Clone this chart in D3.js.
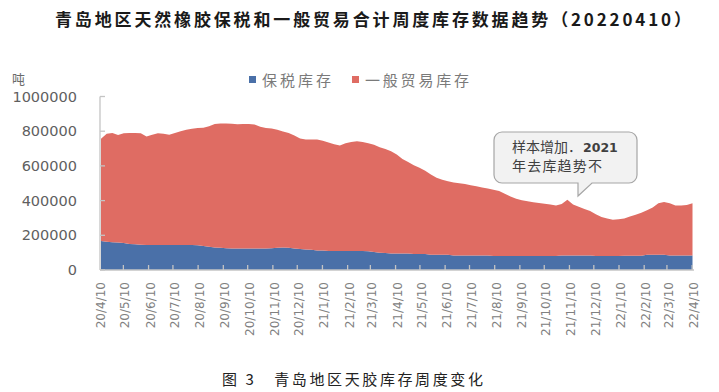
<!DOCTYPE html>
<html><head><meta charset="utf-8">
<script src="https://cdn.jsdelivr.net/npm/d3@7"></script>
<style>
html,body{margin:0;padding:0;background:#fff;}
svg{display:block;}
</style></head>
<body>
<svg id="chart" width="719" height="392"></svg>
<script>
// ---- data ----
const title = "青岛地区天然橡胶保税和一般贸易合计周度库存数据趋势（20220410）";
const caption = "图 3　青岛地区天胶库存周度变化";
const seriesNames = ["保税库存", "一般贸易库存"];
const startDate = "2020-04-10"; // first weekly observation
const bonded = [167,163,160,158,155,150,148,145,144,144,144,144,144,144,144,144,144,142,138,134,
  130,128,126,124,124,124,124,124,124,124,126,128,130,128,124,121,118,116,112,112,
  110,110,110,110,110,110,110,108,104,100,98,95,95,95,95,92,92,92,88,88,
  88,88,84,84,84,84,84,84,84,80,80,80,80,80,80,80,80,80,80,80,
  80,84,84,84,84,84,84,80,80,80,80,80,82,82,82,82,88,88,88,88,
  84,84,84,84,84];
const general = [590,622,630,620,633,640,642,643,626,636,644,642,636,646,656,664,670,676,682,694,
  712,717,719,719,716,718,718,714,701,694,689,680,668,662,651,637,634,636,640,633,
  625,615,608,620,628,632,628,622,618,608,600,590,570,545,527,512,498,480,462,444,
  432,424,421,416,411,404,398,392,386,382,375,360,344,330,322,316,310,306,302,297,
  292,296,321,294,281,268,256,242,225,217,210,212,215,226,236,248,257,272,297,304,
  301,288,288,291,301];
const yTicks = [0,200000,400000,600000,800000,1000000];
const xTickLabels = ["20/4/10","20/5/10","20/6/10","20/7/10","20/8/10","20/9/10","20/10/10","20/11/10","20/12/10",
  "21/1/10","21/2/10","21/3/10","21/4/10","21/5/10","21/6/10","21/7/10","21/8/10","21/9/10","21/10/10","21/11/10","21/12/10",
  "22/1/10","22/2/10","22/3/10","22/4/10"];
const yUnit = "吨";
const noteLines = ["样本增加．", "2021", "年去库趋势不"];

// ---- build ----
const parseISO = d3.timeParse("%Y-%m-%d");
const parseTick = d3.timeParse("%y/%-m/%-d");
const t0 = parseISO(startDate);
const rows = bonded.map((b, i) => ({
  date: d3.timeDay.offset(t0, 7 * i),
  bonded: b * 1000,
  general: general[i] * 1000
}));

const svg = d3.select("#chart");
const colors = {bonded: "#4a70a8", general: "#df6c63"};

const x = d3.scaleTime()
  .domain([rows[0].date, rows[rows.length - 1].date])
  .range([101, 692.5]);
const y = d3.scaleLinear().domain([0, 1000000]).range([270, 96.5]);

const stack = d3.stack().keys(["bonded", "general"]);
const layers = stack(rows);
const area = d3.area()
  .x(d => x(d.data.date))
  .y0(d => y(d[0]))
  .y1(d => y(d[1]));

svg.append("g").selectAll("path").data(layers).join("path")
  .attr("d", area)
  .attr("fill", d => colors[d.key]);

// title
svg.append("text")
  .attr("x", 55).attr("y", 26)
  .attr("textLength", 636).attr("lengthAdjust", "spacing")
  .attr("font-family", "'Noto Sans CJK SC', sans-serif")
  .attr("font-weight", "bold").attr("font-size", 17)
  .attr("fill", "#1a1a1a")
  .text(title);

// legend
const leg = [
  {key: "bonded", name: seriesNames[0], sx: 249, tx: 262, w: 69},
  {key: "general", name: seriesNames[1], sx: 352, tx: 365, w: 104}
];
const lg = svg.append("g");
leg.forEach(l => {
  lg.append("rect").attr("x", l.sx).attr("y", 76).attr("width", 7).attr("height", 7)
    .attr("fill", colors[l.key]);
  lg.append("text").attr("x", l.tx).attr("y", 86)
    .attr("textLength", l.w).attr("lengthAdjust", "spacing")
    .attr("font-family", "'Noto Sans CJK SC', sans-serif")
    .attr("font-size", 15).attr("fill", "#7a7a7a")
    .text(l.name);
});

// y unit
svg.append("text").attr("x", 12).attr("y", 84)
  .attr("font-family", "'Noto Sans CJK SC', sans-serif")
  .attr("font-size", 13).attr("fill", "#6a6a6a").text(yUnit);

// y axis
const yAxis = d3.axisLeft(y).tickValues(yTicks).tickSize(0).tickPadding(23)
  .tickFormat(d3.format("d"));
const gy = svg.append("g").attr("transform", "translate(100,0)").call(yAxis);
gy.select(".domain").remove();
gy.selectAll("text").attr("font-family", "'DejaVu Sans', sans-serif")
  .attr("font-size", 14.5).attr("fill", "#5f5f5f");
svg.append("line").attr("x1", 100).attr("x2", 100).attr("y1", y(1000000)).attr("y2", 270)
  .attr("stroke", "#c4c4c4").attr("stroke-width", 1.3);
svg.append("g").selectAll("line").data(yTicks).join("line")
  .attr("x1", 100).attr("x2", 105)
  .attr("y1", d => y(d)).attr("y2", d => y(d))
  .attr("stroke", "#c4c4c4").attr("stroke-width", 1.3);

// x axis
svg.append("line").attr("x1", 100).attr("x2", 694).attr("y1", 270).attr("y2", 270)
  .attr("stroke", "#c4c4c4").attr("stroke-width", 1.5);
const tickDates = xTickLabels.map(s => parseTick(s));
svg.append("g").selectAll("line").data(tickDates.slice(1)).join("line")
  .attr("x1", d => x(d) - 2).attr("x2", d => x(d) - 2)
  .attr("y1", 270).attr("y2", 265)
  .attr("stroke", "#c4c4c4").attr("stroke-width", 1.3);
svg.append("g").selectAll("text").data(xTickLabels).join("text")
  .attr("transform", (d, i) => `translate(${x(tickDates[i]) + 4},282) rotate(-90)`)
  .attr("text-anchor", "end")
  .attr("font-family", "'DejaVu Sans', sans-serif")
  .attr("font-size", 12).attr("fill", "#808080")
  .text(d => d);

// callout
const bx = 494, by = 132, bw = 143, bh = 51, r = 8, tipX = 578, tipY = 196, tailR = 592;
const p = d3.path();
p.moveTo(bx + r, by);
p.lineTo(bx + bw - r, by);
p.arcTo(bx + bw, by, bx + bw, by + r, r);
p.lineTo(bx + bw, by + bh - r);
p.arcTo(bx + bw, by + bh, bx + bw - r, by + bh, r);
p.lineTo(tailR, by + bh);
p.lineTo(tipX, tipY);
p.lineTo(tipX, by + bh);
p.lineTo(bx + r, by + bh);
p.arcTo(bx, by + bh, bx, by + bh - r, r);
p.lineTo(bx, by + r);
p.arcTo(bx, by, bx + r, by, r);
p.closePath();
svg.append("path").attr("d", p.toString())
  .attr("fill", "#f2f2f2").attr("stroke", "#a6a6a6").attr("stroke-width", 1.2);
const t1 = svg.append("text").attr("x", 512).attr("y", 152)
  .attr("font-family", "'Noto Sans CJK SC', sans-serif").attr("font-size", 14)
  .attr("fill", "#404040");
t1.append("tspan").text(noteLines[0]);
t1.append("tspan").attr("font-weight", "bold").attr("font-family", "'DejaVu Sans', sans-serif")
  .attr("font-size", 12.5).attr("dx", 1).text(noteLines[1]);
svg.append("text").attr("x", 512).attr("y", 171)
  .attr("textLength", 90).attr("lengthAdjust", "spacing")
  .attr("font-family", "'Noto Sans CJK SC', sans-serif").attr("font-size", 14)
  .attr("fill", "#404040").text(noteLines[2]);

// caption
svg.append("text").attr("x", 222).attr("y", 385)
  .attr("textLength", 261).attr("lengthAdjust", "spacing")
  .attr("font-family", "'Noto Sans CJK SC', sans-serif").attr("font-size", 15)
  .attr("fill", "#222").text(caption);
</script>
</body></html>
